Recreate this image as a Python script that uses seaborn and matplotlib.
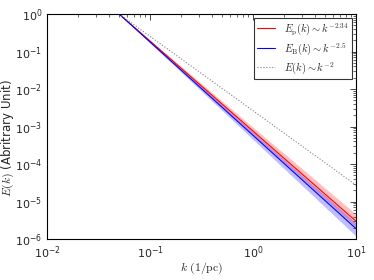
import numpy as np
import pandas as pd
import matplotlib
matplotlib.use('Agg')
import matplotlib.pyplot as plt
import seaborn as sns

# --- data (endpoints of the power laws) ---
k_vals = [0.05, 10.0]
E_p = [1.0, 3.0e-6]
E_p_low = [1.0, 2.1e-6]
E_p_high = [1.0, 4.6e-6]
E_B = [1.0, 1.9e-6]
E_B_low = [1.0, 1.2e-6]
E_B_high = [1.0, 2.7e-6]
E_ref = [1.0, 2.75e-5]

labels = [r'$E_{\rm p}(k)\sim k^{-2.34}$',
          r'$E_{\rm B}(k)\sim k^{-2.5}$',
          r'$E(k)\sim k^{-2}$']

sns.set_theme(style='white')
plt.rcParams['font.family'] = ['DejaVu Sans']
plt.rcParams['mathtext.fontset'] = 'cm'
plt.rcParams['axes.edgecolor'] = 'black'
plt.rcParams['axes.linewidth'] = 0.8

df = pd.DataFrame({'k': k_vals, 'Ep': E_p, 'EB': E_B, 'Eref': E_ref})

fig = plt.figure(figsize=(3.74, 2.8), dpi=100)
ax = fig.add_axes([0.126, 0.146, 0.826, 0.804])

ax.fill_between(k_vals, E_p_low, E_p_high, color='red', alpha=0.25, linewidth=0)
ax.fill_between(k_vals, E_B_low, E_B_high, color='blue', alpha=0.25, linewidth=0)
sns.lineplot(data=df, x='k', y='Ep', color='red', linewidth=0.8, ax=ax, label=labels[0])
sns.lineplot(data=df, x='k', y='EB', color='blue', linewidth=0.8, ax=ax, label=labels[1])
sns.lineplot(data=df, x='k', y='Eref', color='gray', linestyle=':', linewidth=0.8, ax=ax, label=labels[2])

ax.set_xscale('log')
ax.set_yscale('log')
ax.set_xlim(1e-2, 1e1)
ax.set_ylim(1e-6, 1e0)
ax.set_xlabel(r'$k\ (1/{\rm pc})$', fontsize=8.5)
ax.set_ylabel(r'$E(k)$ (Abritrary Unit)', fontsize=8.5)
ax.xaxis.set_label_coords(0.5, -0.095)
ax.yaxis.set_label_coords(-0.1, 0.45)

ax.tick_params(which='both', direction='in', top=True, right=True, labelsize=8)
ax.tick_params(which='major', length=4, width=0.6)
ax.tick_params(which='minor', length=2, width=0.5)
ax.yaxis.set_major_locator(matplotlib.ticker.LogLocator(base=10, numticks=10))
ax.yaxis.set_minor_locator(matplotlib.ticker.LogLocator(base=10, subs=np.arange(2, 10) * 1.0, numticks=20))

leg = ax.legend(loc='upper right', fontsize=7.5, frameon=True, fancybox=False,
                edgecolor='black', handlelength=1.8, borderpad=0.3,
                labelspacing=0.35, borderaxespad=0.4)
leg.get_frame().set_linewidth(0.8)

fig.savefig('out.png', dpi=100)
